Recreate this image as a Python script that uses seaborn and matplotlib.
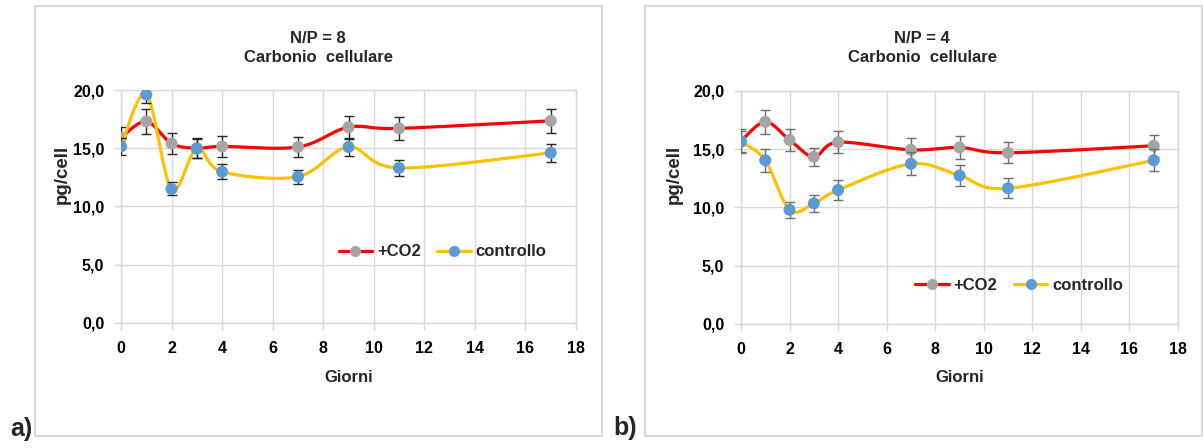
import numpy as np
import matplotlib
matplotlib.use("Agg")
import matplotlib.pyplot as plt
from matplotlib.lines import Line2D
from matplotlib.patches import Rectangle
import seaborn as sns

# ---- data -----------------------------------------------------------
giorni = [0, 1, 2, 3, 4, 7, 9, 11, 17]

np8_co2 = [15.9, 17.3, 15.4, 15.0, 15.15, 15.1, 16.8, 16.7, 17.35]
np8_co2_err = [0.9, 1.05, 0.9, 0.85, 0.9, 0.9, 1.0, 1.0, 1.05]
np8_ctrl = [15.15, 19.6, 11.5, 14.95, 12.97, 12.55, 15.1, 13.3, 14.6]
np8_ctrl_err = [0.7, 0.7, 0.55, 0.8, 0.65, 0.6, 0.8, 0.65, 0.75]

np4_co2 = [15.7, 17.35, 15.8, 14.35, 15.6, 14.95, 15.15, 14.7, 15.3]
np4_co2_err = [1.05, 1.05, 0.95, 0.8, 0.95, 1.0, 0.95, 0.9, 0.95]
np4_ctrl = [15.65, 14.05, 9.8, 10.35, 11.5, 13.75, 12.75, 11.65, 14.05]
np4_ctrl_err = [0.9, 1.0, 0.7, 0.7, 0.85, 1.0, 0.9, 0.85, 0.95]

titles = ["N/P = 8\nCarbonio  cellulare", "N/P = 4\nCarbonio  cellulare"]
series_labels = ["+CO2", "controllo"]
panel_tags = ["a)", "b)"]
x_ticks = list(range(0, 19, 2))
y_ticks = [0, 5, 10, 15, 20]
y_tick_labels = ["0,0", "5,0", "10,0", "15,0", "20,0"]

# ---- style ----------------------------------------------------------
sns.set_style("whitegrid", {"grid.color": "#D9D9D9", "axes.edgecolor": "#D9D9D9"})
plt.rcParams["font.family"] = ["Liberation Sans", "DejaVu Sans"]
plt.rcParams["font.weight"] = "bold"

RED, YELLOW = "#FF0000", "#FFC000"
GREY_MK, BLUE_MK = "#A5A5A5", "#5B9BD5"
GRID = "#D9D9D9"

W, H = 1203, 448
fig = plt.figure(figsize=(W / 100, H / 100), dpi=100)


def fx(px):
    return px / W


def fy(py):
    return 1 - py / H


def smooth_curve(ax, x, y, n=40):
    """Excel-like smoothed line: Bezier segments with Catmull-Rom controls
    computed in display space, mapped back to data coordinates."""
    pts = ax.transData.transform(np.column_stack([x, y]))
    P = np.vstack([pts[0], pts, pts[-1]])
    out = [pts[0]]
    t = np.linspace(0, 1, n)[1:, None]
    for i in range(1, len(P) - 2):
        p0, p1, p2, p3 = P[i - 1], P[i], P[i + 1], P[i + 2]
        c1 = p1 + (p2 - p0) / 6
        c2 = p2 - (p3 - p1) / 6
        seg = ((1 - t) ** 3) * p1 + 3 * ((1 - t) ** 2) * t * c1 \
            + 3 * (1 - t) * t ** 2 * c2 + t ** 3 * p2
        out.extend(seg)
    data = ax.transData.inverted().transform(np.array(out))
    return data[:, 0], data[:, 1]


panels = [
    dict(box=(35, 6, 602, 436), axes=(121, 90, 576, 322.7),
         co2=np8_co2, co2_err=np8_co2_err, ctrl=np8_ctrl, ctrl_err=np8_ctrl_err,
         title_x=318, ylab_x=62, tag=(21, 429), err_color="#262626",
         legend_anchor=(0.707, 0.304)),
    dict(box=(645, 6, 1202, 436), axes=(741, 91, 1178, 324),
         co2=np4_co2, co2_err=np4_co2_err, ctrl=np4_ctrl, ctrl_err=np4_ctrl_err,
         title_x=922, ylab_x=674, tag=(625, 428), err_color="#6E6E6E",
         legend_anchor=(0.637, 0.167)),
]

for k, p in enumerate(panels):
    bx0, by0, bx1, by1 = p["box"]
    fig.add_artist(Rectangle((fx(bx0), fy(by1)), fx(bx1) - fx(bx0), fy(by0) - fy(by1),
                             transform=fig.transFigure, fill=False,
                             edgecolor=GRID, linewidth=1.5))

    ax0, ay0, ax1, ay1 = p["axes"]
    ax = fig.add_axes([fx(ax0), fy(ay1), fx(ax1) - fx(ax0), fy(ay0) - fy(ay1)])
    ax.set_xlim(0, 18)
    ax.set_ylim(0, 20)
    ax.set_xticks(x_ticks)
    ax.set_yticks(y_ticks)
    ax.set_yticklabels(y_tick_labels)
    ax.grid(True, color=GRID, linewidth=1)
    for s in ax.spines.values():
        s.set_color(GRID)
        s.set_linewidth(1)
    ax.tick_params(axis="both", which="both", bottom=True, left=True,
                   length=5, width=1, color=GRID, labelsize=11.5,
                   labelcolor="black")
    ax.tick_params(axis="x", pad=8)
    ax.tick_params(axis="y", pad=7)
    for lab in ax.get_xticklabels() + ax.get_yticklabels():
        lab.set_fontweight("bold")

    series = [(p["co2"], p["co2_err"], RED, GREY_MK),
              (p["ctrl"], p["ctrl_err"], YELLOW, BLUE_MK)]
    for z, (vals, err, lc, mc) in enumerate(series):
        sx, sy = smooth_curve(ax, giorni, vals)
        sns.lineplot(x=sx, y=sy, ax=ax, color=lc, linewidth=2.3, sort=False,
                     estimator=None, zorder=3 + 3 * z)
        ax.errorbar(giorni, vals, yerr=err, fmt="none", ecolor=p["err_color"],
                    elinewidth=1, capsize=3.5, capthick=1, zorder=4 + 3 * z)
        sns.scatterplot(x=giorni, y=vals, ax=ax, color=mc, s=75,
                        edgecolor="none", zorder=5 + 3 * z, legend=False)

    ax.set_xlabel("")
    ax.set_ylabel("")

    handles = [
        Line2D([], [], color=RED, lw=2.3, marker="o", markersize=8,
               markerfacecolor=GREY_MK, markeredgecolor="none"),
        Line2D([], [], color=YELLOW, lw=2.3, marker="o", markersize=8,
               markerfacecolor=BLUE_MK, markeredgecolor="none"),
    ]
    ax.legend(handles, series_labels, loc="center", bbox_to_anchor=p["legend_anchor"],
              ncol=2, frameon=False, handlelength=2.0, handletextpad=0.3,
              columnspacing=1.0, prop={"size": 12, "weight": "bold"})

    fig.text(fx(p["title_x"]), fy(48), titles[k], ha="center", va="center",
             fontsize=12, fontweight="bold", linespacing=1.4)
    fig.text(fx((ax0 + ax1) / 2), fy(377), "Giorni", ha="center", va="center",
             fontsize=12, fontweight="bold")
    fig.text(fx(p["ylab_x"]), fy(174), "pg/cell", ha="center", va="center",
             rotation=90, fontsize=13.5, fontweight="bold")
    fig.text(fx(p["tag"][0]), fy(p["tag"][1]), panel_tags[k], ha="center",
             va="center", fontsize=18, fontweight="bold")

fig.savefig("out.png", dpi=100, facecolor="white")
